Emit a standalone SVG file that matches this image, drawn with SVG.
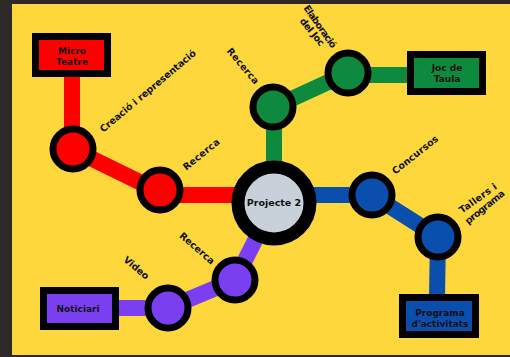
<svg xmlns="http://www.w3.org/2000/svg" width="510" height="357" viewBox="0 0 510 357">
<style>
.ln{fill:none;stroke-width:16;stroke-linejoin:round}
.st{stroke:#000;stroke-width:7}
.bx{stroke:#000;stroke-width:7}
.lb{font-family:"DejaVu Sans","Liberation Sans",sans-serif;font-weight:bold;font-size:9.5px;fill:#111;dominant-baseline:central}
.bt{font-family:"DejaVu Sans","Liberation Sans",sans-serif;font-weight:bold;font-size:9px;fill:#111;text-anchor:middle;dominant-baseline:central}
</style>
<rect x="0" y="0" width="510" height="357" fill="#2e2926"/>
<rect x="12" y="4" width="498" height="351" fill="#fdd73c"/>
<g id="connectors">
<polyline class="ln" stroke="#ff0000" points="72,77 72,149 160,192 160,195 274,195"/>
<polyline class="ln" stroke="#0e8a3e" points="274,203 274,107 348,73 348,75 410,75"/>
<polyline class="ln" stroke="#0b4fae" points="274,195 372,195 438,237 437,297"/>
<polyline class="ln" stroke="#7b3ff2" points="274,203 235,280 168,308 44,308"/>
</g>
<g id="micro-teatre"><rect class="bx" x="35.5" y="36.5" width="72" height="37" fill="#ff0000"/><text class="bt" x="72" y="51">Micro</text><text class="bt" x="72" y="62">Teatre</text></g>
<g id="joc-de-taula"><rect class="bx" x="410.5" y="54.5" width="72" height="37" fill="#0e8a3e"/><text class="bt" x="447" y="68">Joc de</text><text class="bt" x="447" y="79">Taula</text></g>
<g id="programa"><rect class="bx" x="402.5" y="297.5" width="73" height="37" fill="#0b4fae"/><text class="bt" x="440" y="313">Programa</text><text class="bt" x="440" y="324">d'activitats</text></g>
<g id="noticiari"><rect class="bx" x="43.5" y="290.5" width="72" height="36" fill="#7b3ff2"/><text class="bt" x="78" y="309">Noticiari</text></g>
<g id="red1"><circle class="st" cx="73" cy="149" r="20" fill="#ff0000"/></g>
<g id="red2"><circle class="st" cx="160" cy="190" r="20" fill="#ff0000"/></g>
<g id="green1"><circle class="st" cx="273" cy="107" r="20" fill="#0e8a3e"/></g>
<g id="green2"><circle class="st" cx="348" cy="73" r="20" fill="#0e8a3e"/></g>
<g id="blue1"><circle class="st" cx="372" cy="195" r="20" fill="#0b4fae"/></g>
<g id="blue2"><circle class="st" cx="438" cy="237" r="20" fill="#0b4fae"/></g>
<g id="purple1"><circle class="st" cx="235" cy="280" r="20" fill="#7b3ff2"/></g>
<g id="purple2"><circle class="st" cx="168" cy="308" r="20" fill="#7b3ff2"/></g>
<g id="center"><circle cx="274" cy="203" r="36" fill="#c8d0da" stroke="#000" stroke-width="13"/><text class="bt" x="274" y="202" style="font-size:9.5px">Projecte 2</text></g>
<g id="labels">
<text class="lb" x="101" y="130" transform="rotate(-40 101 130)" textLength="122">Creació i representació</text>
<text class="lb" x="184" y="168" transform="rotate(-39 184 168)" textLength="44">Recerca</text>
<text class="lb" x="229" y="49" transform="rotate(50 229 49)" textLength="44">Recerca</text>
<text class="lb" x="306" y="6" transform="rotate(55 306 6)" textLength="50">Elaboració</text>
<text class="lb" x="302" y="19" transform="rotate(51 302 19)" textLength="33">del Joc</text>
<text class="lb" x="393" y="172" transform="rotate(-38.5 393 172)" textLength="56">Concursos</text>
<text class="lb" x="460" y="211" transform="rotate(-36 460 211)" textLength="44">Tallers i</text>
<text class="lb" x="466" y="222" transform="rotate(-39 466 222)" textLength="48">programa</text>
<text class="lb" x="181" y="234" transform="rotate(41 181 234)" textLength="43">Recerca</text>
<text class="lb" x="125" y="258" transform="rotate(40 125 258)" textLength="30">Video</text>
</g>
</svg>
